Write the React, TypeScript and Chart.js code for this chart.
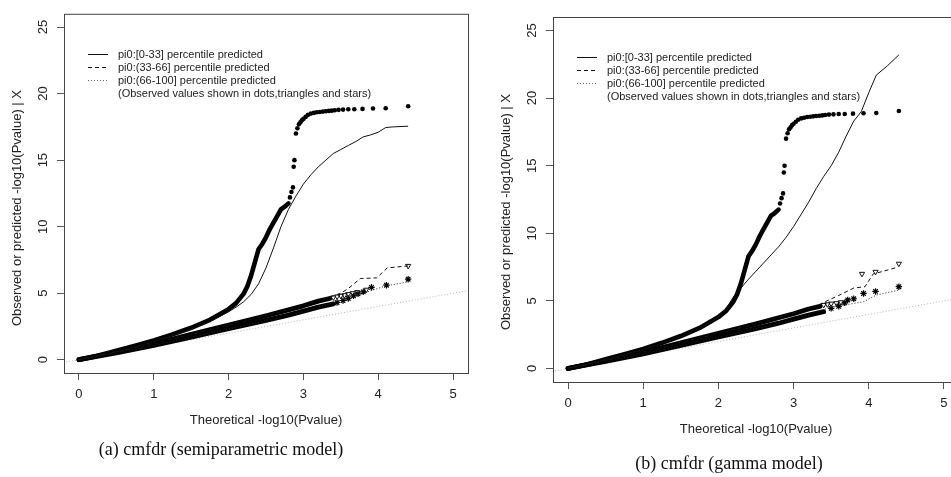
import React, { useEffect, useRef } from "react";
import { Chart, registerables } from "chart.js";

Chart.register(...registerables);

// ---------------- data ----------------
const xTickValues = [0, 1, 2, 3, 4, 5];
const yTickValues = [0, 5, 10, 15, 20, 25];
const refLine: [number, number][] = [[-1, -1], [6, 6]];

const legendLabels = [
  "pi0:[0-33] percentile predicted",
  "pi0:(33-66] percentile predicted",
  "pi0:(66-100] percentile predicted",
  "(Observed values shown in dots,triangles and stars)",
];

const xTitle = "Theoretical -log10(Pvalue)";
const yTitle = "Observed or predicted -log10(Pvalue) | X";
const captionA = "(a) cmfdr (semiparametric model)";
const captionB = "(b) cmfdr (gamma model)";

// observed, group pi0 [0-33] (dots) - dense part and sparse tail
const obs1Dense: [number, number][] = [
  [0, 0], [0.25, 0.3], [0.5, 0.68], [0.75, 1.05], [1.0, 1.45], [1.25, 1.9], [1.5, 2.4],
  [1.75, 3.0], [2.0, 3.8], [2.1, 4.25], [2.2, 4.95], [2.25, 5.5], [2.3, 6.3], [2.35, 7.3],
  [2.4, 8.3], [2.45, 8.7], [2.5, 9.2], [2.55, 9.8], [2.6, 10.3], [2.65, 10.8], [2.7, 11.3],
  [2.75, 11.5], [2.8, 11.75],
];
const obs1Tail: [number, number][] = [
  [2.82, 12.2], [2.84, 12.6], [2.86, 12.95], [2.87, 14.5], [2.88, 15.0], [2.9, 17.0],
  [2.92, 17.4], [2.94, 17.7], [2.96, 17.85], [2.98, 18.0], [3.0, 18.1], [3.03, 18.25],
  [3.06, 18.4], [3.1, 18.5], [3.14, 18.55], [3.18, 18.6], [3.22, 18.62], [3.26, 18.65],
  [3.3, 18.68], [3.34, 18.7], [3.38, 18.72], [3.42, 18.75], [3.47, 18.78], [3.53, 18.8],
  [3.6, 18.82], [3.68, 18.83], [3.79, 18.85], [3.93, 18.88], [4.1, 18.9], [4.4, 19.05],
];
// observed groups (33-66] (triangles) and (66-100] (stars) - dense parts
const obs2Dense: [number, number][] = [
  [0, 0], [0.5, 0.58], [1, 1.2], [1.5, 1.9], [2, 2.6], [2.5, 3.3], [2.8, 3.75],
  [3.0, 4.05], [3.2, 4.4], [3.35, 4.6],
];
const obs3Dense: [number, number][] = [
  [0, 0], [0.5, 0.52], [1, 1.08], [1.5, 1.7], [2, 2.33], [2.5, 2.95], [2.8, 3.35],
  [3.0, 3.65], [3.2, 3.95], [3.4, 4.2],
];

// panel (a) semiparametric model
const predA1: [number, number][] = [
  [0, 0], [0.5, 0.6], [1, 1.35], [1.5, 2.3], [1.8, 3.0], [2.0, 3.6], [2.1, 3.95], [2.2, 4.35],
  [2.3, 4.9], [2.4, 5.7], [2.5, 6.9], [2.6, 8.4], [2.7, 10.0], [2.8, 11.3], [2.9, 12.3],
  [3.0, 13.2], [3.1, 13.9], [3.2, 14.5], [3.3, 15.0], [3.4, 15.5], [3.5, 15.8], [3.6, 16.1],
  [3.7, 16.4], [3.8, 16.75], [3.9, 16.9], [4.0, 17.1], [4.1, 17.45], [4.2, 17.5], [4.4, 17.55],
];
const predA2: [number, number][] = [
  [0, 0], [0.5, 0.58], [1, 1.2], [1.5, 1.9], [2, 2.6], [2.5, 3.3], [3.0, 4.1], [3.2, 4.45],
  [3.4, 4.8], [3.5, 5.0], [3.6, 5.35], [3.76, 6.1], [3.98, 6.15], [4.12, 6.9], [4.4, 7.05],
];
const predA3: [number, number][] = [
  [0, 0], [1, 1.07], [2, 2.3], [3, 3.6], [3.4, 4.3], [3.6, 4.6], [3.8, 5.0], [3.94, 5.25],
  [4.1, 5.55], [4.4, 5.85],
];
const obsA2Tail: [number, number][] = [
  [3.4, 4.68], [3.45, 4.75], [3.5, 4.8], [3.55, 4.85], [3.6, 4.93], [3.66, 5.0], [3.72, 5.08],
  [3.84, 5.26], [4.4, 7.05],
];
const obsA3Tail: [number, number][] = [
  [3.45, 4.3], [3.53, 4.45], [3.6, 4.6], [3.67, 4.8], [3.73, 4.95], [3.8, 5.1], [3.91, 5.44],
  [4.11, 5.6], [4.4, 6.05],
];

// panel (b) gamma model
const predB1: [number, number][] = [
  [0, 0], [0.5, 0.65], [1, 1.4], [1.5, 2.35], [1.8, 3.1], [2.0, 3.8], [2.1, 4.4], [2.2, 5.3],
  [2.3, 5.95], [2.4, 6.6], [2.5, 7.2], [2.6, 7.8], [2.7, 8.4], [2.8, 9.0], [2.9, 9.7],
  [3.0, 10.5], [3.1, 11.4], [3.2, 12.3], [3.3, 13.3], [3.4, 14.2], [3.5, 15.0], [3.6, 16.0],
  [3.7, 17.2], [3.8, 18.3], [3.9, 19.0], [4.0, 20.4], [4.1, 21.7], [4.25, 22.4], [4.4, 23.2],
];
const predB2: [number, number][] = [
  [0, 0], [1, 1.2], [2, 2.6], [2.5, 3.3], [3.0, 4.1], [3.3, 4.6], [3.48, 5.1], [3.6, 5.4],
  [3.8, 5.95], [3.95, 6.05], [4.06, 7.0], [4.1, 7.05], [4.39, 7.5],
];
const predB3: [number, number][] = [
  [0, 0], [1, 1.07], [2, 2.3], [3, 3.6], [3.48, 4.5], [3.93, 4.94], [4.1, 5.43], [4.4, 5.8],
];
const obsB2Tail: [number, number][] = [
  [3.4, 4.7], [3.45, 4.75], [3.5, 4.8], [3.57, 4.83], [3.63, 4.9], [3.91, 7.0], [4.09, 7.15],
  [4.4, 7.75],
];
const obsB3Tail: [number, number][] = [
  [3.5, 4.45], [3.6, 4.6], [3.68, 4.85], [3.72, 5.07], [3.8, 5.16], [3.93, 5.55], [4.09, 5.7],
  [4.4, 6.05],
];

// ---------------- helpers ----------------
const SANS = '"Liberation Sans", Arial, Helvetica, sans-serif';
const SERIF = '"Liberation Serif", "Times New Roman", serif';
const pts = (arr: [number, number][]) => arr.map(([x, y]) => ({ x, y }));

type Panel = {
  canvasLeft: number;
  canvasWidth: number;
  area: { left: number; top: number; right: number; bottom: number };
  pred1: [number, number][];
  pred2: [number, number][];
  pred3: [number, number][];
  tail2: [number, number][];
  tail3: [number, number][];
  caption: string;
  captionX: number;
  captionY: number;
  yTitleY: number;
};

const H = 477;

const decorPlugin = {
  id: "decor",
  afterDraw(chart: any, _args: any, opts: any) {
    const { ctx, chartArea: a } = chart;
    ctx.save();
    // box
    ctx.strokeStyle = "#444";
    ctx.lineWidth = 1;
    ctx.setLineDash([]);
    ctx.strokeRect(a.left + 0.5, a.top + 0.5, a.right - a.left, a.bottom - a.top);

    // legend
    const lx0 = a.left + 24;
    const lx1 = a.left + 44;
    const tx = a.left + 54;
    const dashes = [[], [4, 3], [1, 2]];
    ctx.font = `11px ${SANS}`;
    ctx.textBaseline = "middle";
    ctx.textAlign = "left";
    legendLabels.forEach((lab, i) => {
      const y = Math.round(a.top + 40 + i * 12.9) + 0.5;
      if (i < 3) {
        ctx.beginPath();
        ctx.setLineDash(dashes[i]);
        ctx.strokeStyle = i === 2 ? "#666" : "#111";
        ctx.moveTo(lx0, y);
        ctx.lineTo(lx1, y);
        ctx.stroke();
      }
      ctx.setLineDash([]);
      ctx.fillStyle = "#222";
      ctx.fillText(lab, tx, y);
    });

    // axis titles
    ctx.font = `13px ${SANS}`;
    ctx.fillStyle = "#222";
    ctx.textAlign = "center";
    ctx.textBaseline = "middle";
    ctx.fillText(xTitle, (a.left + a.right) / 2, a.bottom + opts.xTitleOffset);
    ctx.save();
    ctx.translate(a.left - opts.yTitleOffset, opts.yTitleY);
    ctx.rotate(-Math.PI / 2);
    ctx.fillText(yTitle, 0, 0);
    ctx.restore();

    // caption
    ctx.font = `18px ${SERIF}`;
    ctx.fillStyle = "#111";
    ctx.fillText(opts.caption, opts.captionX, opts.captionY);
    ctx.restore();
  },
};

function buildConfig(p: Panel): any {
  const w = p.canvasWidth;
  const xScaleH = 30;
  return {
    type: "scatter",
    data: {
      datasets: [
        { data: pts(p.pred1), showLine: true, borderColor: "#111", borderWidth: 1, pointRadius: 0 },
        { data: pts(p.pred2), showLine: true, borderColor: "#111", borderWidth: 1, borderDash: [4, 3], pointRadius: 0 },
        { data: pts(p.pred3), showLine: true, borderColor: "#222", borderWidth: 1, borderDash: [1, 2], pointRadius: 0 },
        { data: pts(obs1Tail), showLine: false, pointStyle: "circle", pointRadius: 2.3, backgroundColor: "#000", borderWidth: 0 },
        { data: pts(p.tail2), showLine: false, pointStyle: "triangle", rotation: 180, pointRadius: 3, backgroundColor: "rgba(255,255,255,0)", borderColor: "#111", borderWidth: 1 },
        { data: pts(p.tail3), showLine: false, pointStyle: "star", pointRadius: 3.2, backgroundColor: "#000", borderColor: "#000", borderWidth: 1.2 },
        { data: pts(obs1Dense), showLine: true, borderColor: "#000", borderWidth: 4.6, borderCapStyle: "round", borderJoinStyle: "round", pointRadius: 0 },
        { data: pts(obs2Dense), showLine: true, borderColor: "#000", borderWidth: 4.8, borderCapStyle: "round", borderJoinStyle: "round", pointRadius: 0 },
        { data: pts(obs3Dense), showLine: true, borderColor: "#000", borderWidth: 4.8, borderCapStyle: "round", borderJoinStyle: "round", pointRadius: 0 },
        { data: pts(refLine), showLine: true, borderColor: "#b5b5b5", borderWidth: 1, borderDash: [1, 2], pointRadius: 0 },
      ],
    },
    options: {
      animation: false,
      responsive: false,
      maintainAspectRatio: false,
      events: [],
      layout: {
        padding: {
          left: 0,
          top: p.area.top,
          right: w - p.area.right,
          bottom: H - p.area.bottom - xScaleH,
        },
      },
      plugins: {
        legend: { display: false },
        tooltip: { enabled: false },
        decor: {
          caption: p.caption,
          captionX: p.captionX,
          captionY: p.captionY,
          xTitleOffset: 47,
          yTitleOffset: 47,
          yTitleY: p.yTitleY,
        },
      },
      scales: {
        x: {
          type: "linear",
          min: -0.2,
          max: 5.2,
          afterBuildTicks: (s: any) => {
            s.ticks = xTickValues.map((v) => ({ value: v }));
          },
          afterFit: (s: any) => {
            s.height = xScaleH;
          },
          border: { display: false },
          grid: { drawOnChartArea: false, drawTicks: true, tickLength: 7, color: "#555", lineWidth: 1 },
          ticks: { padding: 7, color: "#222", font: { size: 13, family: SANS }, maxRotation: 0, autoSkip: false },
        },
        y: {
          type: "linear",
          min: -1,
          max: 26,
          afterBuildTicks: (s: any) => {
            s.ticks = yTickValues.map((v) => ({ value: v }));
          },
          afterFit: (s: any) => {
            s.width = p.area.left;
          },
          border: { display: false },
          grid: { drawOnChartArea: false, drawTicks: true, tickLength: 7, color: "#555", lineWidth: 1 },
          ticks: {
            padding: 6,
            color: "#222",
            font: { size: 13, family: SANS },
            minRotation: 90,
            maxRotation: 90,
            crossAlign: "center",
            autoSkip: false,
          },
        },
      },
    },
    plugins: [decorPlugin],
  };
}

const panelA: Panel = {
  canvasLeft: 0,
  canvasWidth: 476,
  area: { left: 64, top: 11, right: 468, bottom: 373 },
  pred1: predA1,
  pred2: predA2,
  pred3: predA3,
  tail2: obsA2Tail,
  tail3: obsA3Tail,
  caption: captionA,
  captionX: 221,
  captionY: 450,
  yTitleY: 208,
};

const panelB: Panel = {
  canvasLeft: 476,
  canvasWidth: 500,
  area: { left: 77, top: 17, right: 483, bottom: 382 },
  pred1: predB1,
  pred2: predB2,
  pred3: predB3,
  tail2: obsB2Tail,
  tail3: obsB3Tail,
  caption: captionB,
  captionX: 253,
  captionY: 464,
  yTitleY: 212,
};

function PanelChart({ panel }: { panel: Panel }) {
  const ref = useRef<HTMLCanvasElement | null>(null);
  useEffect(() => {
    if (!ref.current) return;
    const chart = new Chart(ref.current, buildConfig(panel));
    return () => chart.destroy();
  }, [panel]);
  return (
    <canvas
      ref={ref}
      width={panel.canvasWidth}
      height={H}
      style={{
        position: "absolute",
        left: panel.canvasLeft,
        top: 0,
        width: panel.canvasWidth,
        height: H,
      }}
    />
  );
}

export default function App() {
  return (
    <div
      style={{
        position: "absolute",
        left: 0,
        top: 0,
        width: 951,
        height: H,
        overflow: "hidden",
        background: "#fff",
      }}
    >
      <PanelChart panel={panelA} />
      <PanelChart panel={panelB} />
    </div>
  );
}
